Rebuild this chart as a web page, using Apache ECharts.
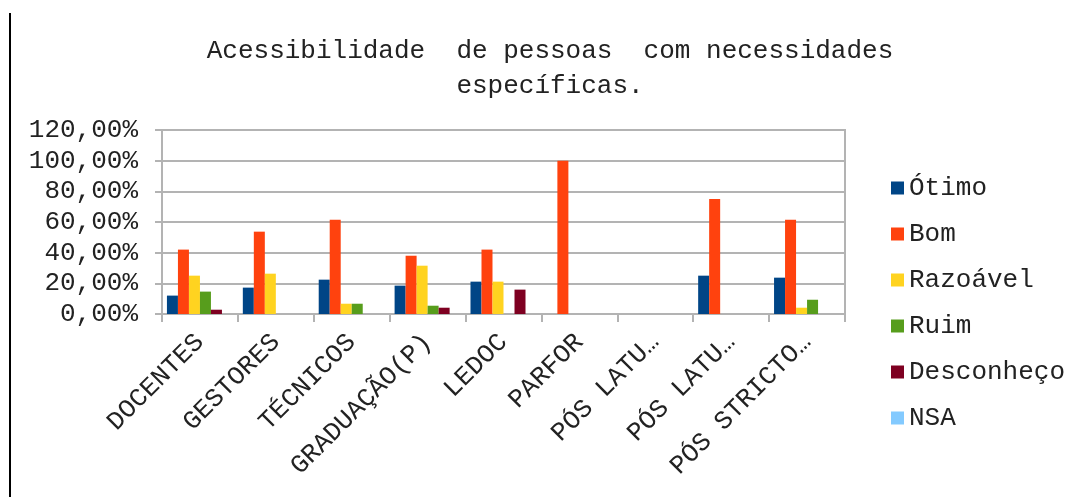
<!DOCTYPE html>
<html>
<head>
<meta charset="utf-8">
<script src="https://cdn.jsdelivr.net/npm/echarts@6/dist/echarts.min.js"></script>
<style>
  html, body { margin: 0; padding: 0; background: #fff; }
  #main { width: 1081px; height: 497px; }
</style>
</head>
<body>
<div id="main"></div>
<script>
// categorias e valores (%)
var categorias = ['DOCENTES', 'GESTORES', 'TÉCNICOS', 'GRADUAÇÃO(P)', 'LEDOC', 'PARFOR', 'PÓS LATU…', 'PÓS LATU…', 'PÓS STRICTO…'];
var otimo      = [12.0, 17.2, 22.4, 18.5, 21.1, 0, 0, 25.0, 23.7];
var bom        = [42.0, 53.7, 61.5, 38.0, 42.0, 100, 0, 75.0, 61.5];
var razoavel   = [25.0, 26.3, 6.7, 31.5, 21.1, 0, 0, 0, 4.1];
var ruim       = [14.6, 0, 6.7, 5.4, 0, 0, 0, 0, 9.3];
var desconheco = [2.8, 0, 0, 4.1, 15.9, 0, 0, 0, 0];
var nsa        = [0, 0, 0, 0, 0, 0, 0, 0, 0];
var yTicks = [0, 20, 40, 60, 80, 100, 120];

var fonte = 'Liberation Mono';
var cinza = '#b3b3b3';

var myChart = echarts.init(document.getElementById('main'));

function serie(nome, dados, cor) {
	return {
		name: nome,
		type: 'bar',
		data: dados,
		barGap: 0,
		barCategoryGap: '13%',
		itemStyle: { color: cor }
	};
}

var option = {
	backgroundColor: '#fff',
	animation: false,
	color: ['#004586', '#ff420e', '#ffd320', '#579d1c', '#7e0021', '#83caff'],
	legend: {
		orient: 'vertical',
		left: 886,
		top: 170,
		itemWidth: 13,
		itemHeight: 13,
		itemGap: 20,
		icon: 'rect',
		textStyle: {
			fontFamily: fonte,
			fontSize: 26,
			color: '#222',
			lineHeight: 26
		},
		data: ['Ótimo', 'Bom', 'Razoável', 'Ruim', 'Desconheço', 'NSA']
	},
	grid: {
		left: 162,
		right: 236,
		top: 130,
		bottom: 183,
		show: true,
		borderColor: cinza,
		borderWidth: 2
	},
	xAxis: {
		type: 'category',
		data: categorias,
		axisLine: { lineStyle: { color: cinza, width: 2 } },
		axisTick: { show: true, length: 8, lineStyle: { color: cinza, width: 2 } },
		axisLabel: {
			rotate: 45,
			interval: 0,
			margin: 24,
			fontFamily: fonte,
			fontSize: 26,
			color: '#222'
		}
	},
	yAxis: {
		type: 'value',
		min: yTicks[0],
		max: yTicks[yTicks.length - 1],
		interval: 20,
		axisLine: { show: true, lineStyle: { color: cinza, width: 2 } },
		axisTick: { show: true, length: 7, lineStyle: { color: cinza, width: 2 } },
		splitLine: { lineStyle: { color: cinza, width: 2 } },
		axisLabel: {
			margin: 24,
			fontFamily: fonte,
			fontSize: 26,
			color: '#222',
			formatter: function (v) {
				return v.toFixed(2).replace('.', ',') + '%';
			}
		}
	},
	graphic: [{
		type: 'line',
		shape: { x1: 10, y1: 13, x2: 10, y2: 497 },
		style: { stroke: '#000', lineWidth: 2 }
	}, {
		// titulo centrado em x=550
		type: 'text',
		x: 550,
		y: 34,
		style: {
			text: 'Acessibilidade  de pessoas  com necessidades\nespecíficas.',
			align: 'center',
			verticalAlign: 'top',
			font: '26px "Liberation Mono"',
			lineHeight: 35,
			fill: '#222'
		}
	}],
	series: [
		serie('Ótimo', otimo, '#004586'),
		serie('Bom', bom, '#ff420e'),
		serie('Razoável', razoavel, '#ffd320'),
		serie('Ruim', ruim, '#579d1c'),
		serie('Desconheço', desconheco, '#7e0021'),
		serie('NSA', nsa, '#83caff')
	]
};

myChart.setOption(option);
</script>
</body>
</html>
